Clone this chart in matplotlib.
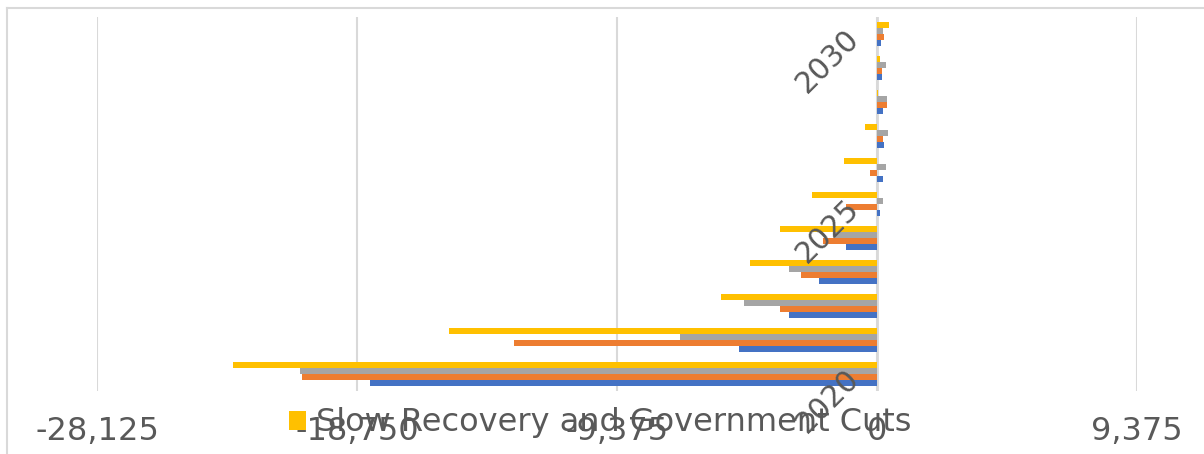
import numpy as np
import matplotlib
matplotlib.use("Agg")
import matplotlib.pyplot as plt
from matplotlib.patches import Patch
from matplotlib.lines import Line2D
from matplotlib.ticker import FuncFormatter

# employment change by year, four scenarios
years = [2020, 2021, 2022, 2023, 2024, 2025, 2026, 2027, 2028, 2029, 2030]
series_a = [-18280, -4980, -3170, -2090, -1120, 120, 230, 260, 230, 190, 160]
series_b = [-20740, -13090, -3500, -2740, -1950, -1120, -250, 230, 370, 190, 260]
series_c = [-20810, -7100, -4800, -3170, -1590, 220, 340, 400, 370, 340, 230]
slow_recovery = [-23220, -15430, -5630, -4580, -3500, -2340, -1190, -420, 20, 100, 450]

colors = ["#4472C4", "#ED7D31", "#A5A5A5", "#FFC000"]
label_years = [2020, 2025, 2030]
xticks = [-28125, -18750, -9375, 0, 9375]
text_color = "#595959"
grid_color = "#D9D9D9"

fig = plt.figure(figsize=(12.04, 4.54), dpi=100)
ax = fig.add_axes([97 / 1204, 1 - 391 / 454, 1040 / 1204, 374 / 454])

pos = np.arange(len(years))
h = 0.175
all_series = [series_a, series_b, series_c, slow_recovery]
for k, (vals, c) in enumerate(zip(all_series, colors)):
    ax.barh(pos + (k - 1.5) * h, vals, height=h, color=c, zorder=3)

ax.set_xlim(xticks[0], xticks[-1])
ax.set_ylim(-0.5, len(years) - 0.5)
ax.set_xticks(xticks)
ax.xaxis.set_major_formatter(FuncFormatter(lambda v, p: f"{v:,.0f}"))
ax.tick_params(axis="x", length=0, pad=18, labelsize=23, labelcolor=text_color)
ax.set_yticks([])
ax.grid(axis="x", color=grid_color, linewidth=1.5, zorder=0)
ax.axvline(0, color=grid_color, linewidth=2.0, zorder=2)
for s in ax.spines.values():
    s.set_visible(False)

# slanted year labels sitting on the zero axis
for yr in label_years:
    i = years.index(yr)
    ax.annotate(str(yr), xy=(0, i), xytext=(-16, 0), textcoords="offset points",
                rotation=45, rotation_mode="anchor", ha="right", va="center",
                fontsize=21.5, color=text_color, annotation_clip=False)

handle = Patch(facecolor=colors[3], edgecolor="none")
fig.legend([handle], ["Slow Recovery and Government Cuts"], loc="center",
           bbox_to_anchor=(600 / 1204, 1 - 423 / 454), frameon=False,
           fontsize=23, labelcolor=text_color, handlelength=0.54,
           handleheight=0.54, handletextpad=0.32)

# outer chart border
fig.add_artist(Line2D([7 / 1204, 1.0], [1 - 8 / 454] * 2, color=grid_color, linewidth=1.5))
fig.add_artist(Line2D([7 / 1204] * 2, [0.0, 1 - 8 / 454], color=grid_color, linewidth=1.5))

fig.savefig("out.png", dpi=100, facecolor="white")
